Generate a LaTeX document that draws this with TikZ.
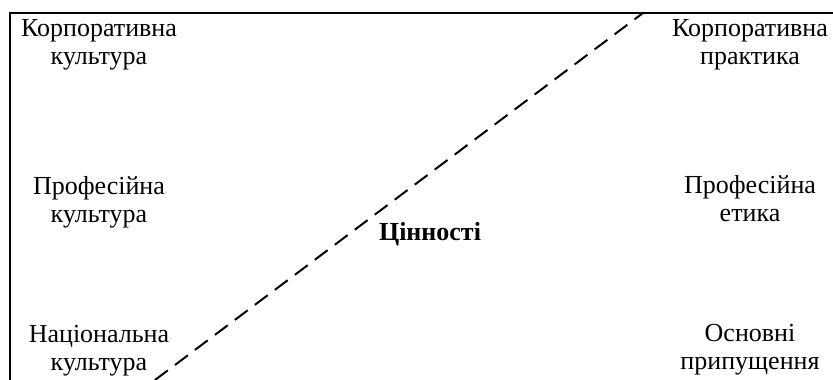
\documentclass[tikz,border=0pt]{standalone}
\usepackage{fontspec}
\setmainfont{Liberation Serif}
\begin{document}
\begin{tikzpicture}[x=1pt, y=1pt,
    label/.style={anchor=base, align=center, inner sep=0pt,
        font=\fontsize{26}{28}\selectfont},
    frame/.style={line width=2pt},
    divide/.style={line width=2pt, dash pattern=on 16pt off 9pt}]
    \useasboundingbox (0,0) rectangle (833,380);
    \clip (0,0) rectangle (833,380);

    % Frame (only top and left edges are visible)
    \draw[frame] (10,-20) -- (10,367) -- (860,367);

    % Ends of the dividing line
    \coordinate (low) at (155,0);
    \coordinate (high) at (643,367);
    \draw[divide] (low) -- (high);

    % Left column
    \node[label] (corpculture) at (99,315) {Корпоративна\\культура};
    \node[label] (profculture) at (99,157) {Професійна\\культура};
    \node[label] (natculture) at (99,9) {Національна\\культура};

    % Right column
    \node[label] (corppractice) at (750,315) {Корпоративна\\практика};
    \node[label] (profethics) at (750,158) {Професійна\\етика};
    \node[label] (assumptions) at (750,10) {Основні\\припущення};

    % Middle
    \node[label, font=\fontsize{26}{28}\selectfont\bfseries] (values) at (430,139) {Цінності};
\end{tikzpicture}
\end{document}
